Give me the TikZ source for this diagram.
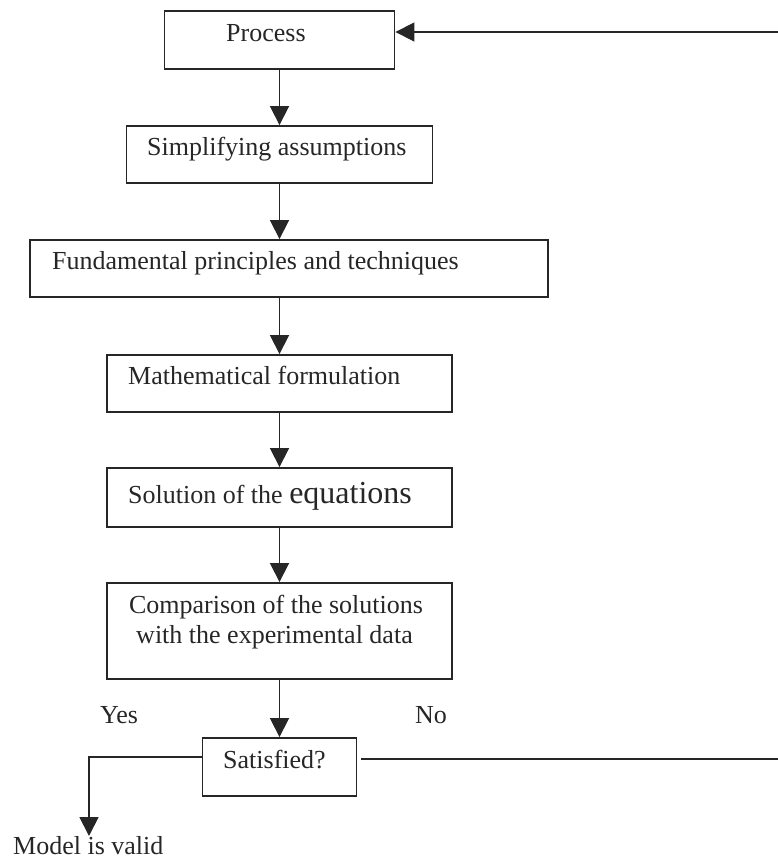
\documentclass[tikz,border=0pt]{standalone}
\usepackage{fontspec}
\setmainfont{Liberation Serif}
\usetikzlibrary{arrows.meta}
\begin{document}
\begin{tikzpicture}[x=1pt,y=-1pt,
  box/.style={draw=black!85,line width=1.9pt,rectangle,inner sep=0pt},
  lbl/.style={inner sep=0pt,text=black!85,font=\fontsize{26}{30}\selectfont},
  line/.style={draw=black!85,line width=1.8pt},
  arr/.style={line,-{Triangle[width=19pt,length=19pt]}}]
\useasboundingbox (0,0) rectangle (778,860);

% boxes
\node[box,minimum width=230pt,minimum height=58pt] (proc) at (279.5,40) {};
\node[box,minimum width=306pt,minimum height=57pt] (simp) at (279.5,154.5) {};
\node[box,minimum width=518pt,minimum height=57pt] (fund) at (289,268.5) {};
\node[box,minimum width=345pt,minimum height=57pt] (math) at (279.5,383.5) {};
\node[box,minimum width=345pt,minimum height=59pt] (sol) at (279.5,497.5) {};
\node[box,minimum width=345pt,minimum height=96pt] (comp) at (279.5,631) {};
\node[box,minimum width=154pt,minimum height=58pt] (sat) at (279.5,767) {};

% texts
\node[lbl,anchor=base west] (tproc) at (226,41) {Process};
\node[lbl,anchor=base west] (tsimp) at (147,155) {Simplifying assumptions};
\node[lbl,anchor=base west] (tfund) at (52,269) {Fundamental principles and techniques};
\node[lbl,anchor=base west] (tmath) at (128,384) {Mathematical formulation};
\node[lbl,anchor=base west] (tsol) at (128,503) {Solution of the {\fontsize{32}{36}\selectfont equations}};
\node[lbl,anchor=base] (tcomp1) at (276,613) {Comparison of the solutions};
\node[lbl,anchor=base] (tcomp2) at (274.5,643) {with the experimental data};
\node[lbl,anchor=base west] (tyes) at (100,723) {Yes};
\node[lbl,anchor=base west] (tno) at (415,723) {No};
\node[lbl,anchor=base west] (tsat) at (223,768) {Satisfied?};
\node[lbl,anchor=base west] (tvalid) at (13,854) {Model is valid};

% connectors
\draw[arr] (proc.south) -- (simp.north);
\draw[arr] (simp.south) -- (simp.south |- fund.north);
\draw[arr] (fund.south -| math.north) -- (math.north);
\draw[arr] (math.south) -- (sol.north);
\draw[arr] (sol.south) -- (comp.north);
\draw[arr] (comp.south) -- (sat.north);

\coordinate (rt) at (778,32);
\coordinate (rb) at (778,759);
\coordinate (valid) at (89,836);
\draw[arr] (rt) -- ([yshift=8pt]proc.east);
\draw[line] ([xshift=4pt,yshift=8pt]sat.east) -- (rb);
\draw[arr] ([yshift=10pt]sat.west) -| (valid);
\end{tikzpicture}
\end{document}
